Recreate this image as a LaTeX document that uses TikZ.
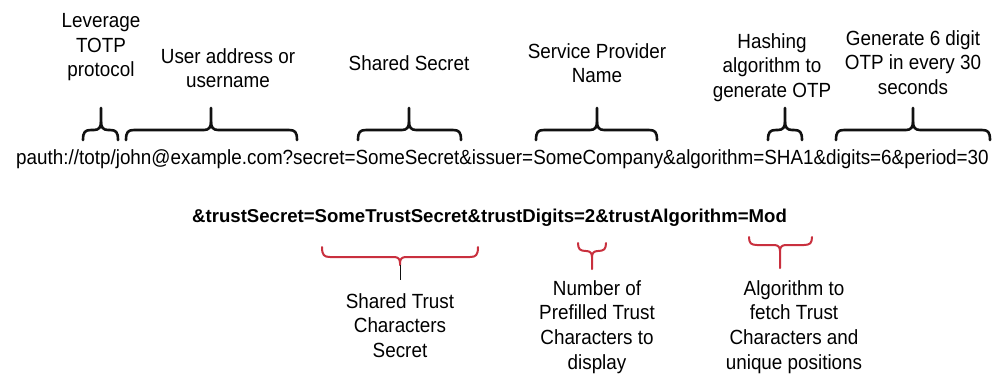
\documentclass[tikz,border=0pt]{standalone}
\usepackage{fontspec}
\setmainfont{Liberation Sans}
\newfontfamily\narrowsans[FakeStretch=0.92]{Liberation Sans}
\usepackage{tikz}
\usetikzlibrary{calc}
\tikzset{
    label/.style={font=\narrowsans\fontsize{20.5}{24.8}\selectfont,align=center,anchor=north,inner sep=0pt},
    uri/.style={font=\narrowsans\fontsize{20.5}{24}\selectfont,anchor=base west,inner sep=0pt},
    trusturi/.style={font=\fontsize{18.6}{23}\selectfont\bfseries,anchor=base west,inner sep=0pt},
    topbrace/.style={line width=2.6pt,line cap=round,line join=round,b},
    trustbrace/.style={line width=2pt,line cap=round,line join=round,r}
}
\definecolor{b}{HTML}{111111}
\definecolor{r}{HTML}{C9303E}
\newcommand{\upbrace}[3]{%
    \draw[topbrace] (#1,140) .. controls (#1,132) and (#1+2,130) .. (#1+8,130) -- (#2-7,130)
        .. controls (#2-2,130) and (#2,127) .. (#2,122) -- (#2,108);
    \draw[topbrace] (#2,122) .. controls (#2,127) and (#2+2,130) .. (#2+7,130) -- (#3-8,130)
        .. controls (#3-2,130) and (#3,132) .. (#3,140);}
\newcommand{\downbrace}[6]{%
    \draw[trustbrace] (#1,#4) .. controls (#1,#5-2) and (#1+2,#5) .. (#1+8,#5) -- (#2-6,#5)
        .. controls (#2-2,#5) and (#2,#5+2) .. (#2,#5+6) -- (#2,#6);
    \draw[trustbrace] (#2,#5+6) .. controls (#2,#5+2) and (#2+2,#5) .. (#2+6,#5) -- (#3-8,#5)
        .. controls (#3-2,#5) and (#3,#5-2) .. (#3,#4);}

\begin{document}
\begin{tikzpicture}[x=1pt, y=-1pt]
			\useasboundingbox (0,0) rectangle (1002,376);
			\node[label] (leverage) at (101,13) {Leverage\\TOTP\\protocol};
			\node[label] (user) at (228,48) {User address or\\username};
			\node[label] (secret) at (409,55) {Shared Secret};
			\node[label] (provider) at (597,43) {Service Provider\\Name};
			\node[label] (hashing) at (772,33) {Hashing\\algorithm to\\generate OTP};
			\node[label] (period) at (913,30) {Generate 6 digit\\OTP in every 30\\seconds};
			\upbrace{83}{101}{118}
			\upbrace{126}{211}{297}
			\upbrace{358}{409}{461}
			\upbrace{536}{597}{657}
			\upbrace{768}{785}{802}
			\upbrace{836}{913}{990}
			\node[uri] (url) at (16,164) {pauth://totp/john@example.com?secret=SomeSecret\&issuer=SomeCompany\&algorithm=SHA1\&digits=6\&period=30};
			\node[trusturi] (trust) at (192,222) {\&trustSecret=SomeTrustSecret\&trustDigits=2\&trustAlgorithm=Mod};
			\downbrace{322}{400}{478}{247}{257}{265}
			\draw[b,line width=0.8pt] (400,265) -- (400,280);
			\downbrace{578}{592}{606}{243}{251}{269}
			\downbrace{749}{780}{812}{237}{245}{268}
			\node[label] (trustsecret) at (400,293) {Shared Trust\\Characters\\Secret};
			\node[label] (trustdigits) at (597,280) {Number of\\Prefilled Trust\\Characters to\\display};
			\node[label] (trustalgo) at (794,280) {Algorithm to\\fetch Trust\\Characters and\\unique positions};
		\end{tikzpicture}
\end{document}
